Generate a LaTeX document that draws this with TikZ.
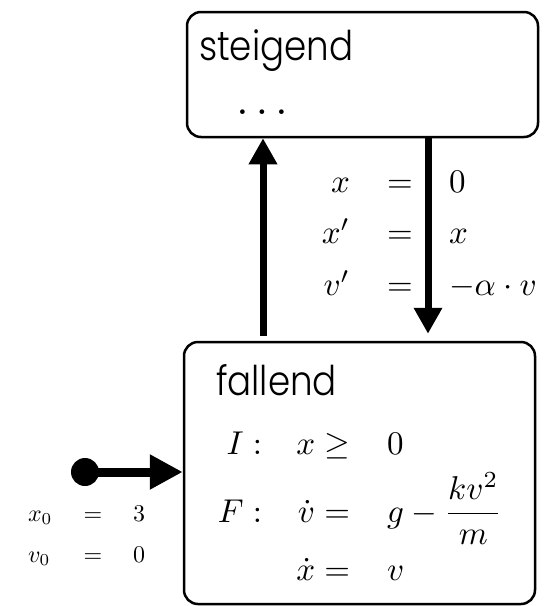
\documentclass[tikz,border=0pt]{standalone}
\usepackage{graphicx}
\usepackage{fontspec}
\newfontfamily\gothic{Poppins Light}
\usetikzlibrary{arrows.meta}
\newcommand{\gthin}[1]{\scalebox{0.87}[1]{#1}}
\begin{document}
\begin{tikzpicture}[x=1pt,y=-1pt,
  statebox/.style={draw, line width=2.5pt, rounded corners=14pt, inner sep=0pt},
  txt/.style={inner sep=0pt, outer sep=0pt},
  sans/.style={txt, font=\gothic\fontsize{41}{48}\selectfont},
  bigm/.style={txt, scale=3.3, transform shape},
  smallm/.style={txt, scale=2.4, transform shape},
  trans/.style={line width=7pt, -{Triangle[length=26pt,width=27pt]}},
  initarr/.style={line width=9pt, -{Triangle[length=33pt,width=33pt]}}]
\useasboundingbox (0,0) rectangle (556,606);
% states
\node[statebox, minimum width=351pt, minimum height=125pt] (steig) at (362.5,74.5) {};
\node[statebox, minimum width=351pt, minimum height=262pt] (fall) at (359.5,473) {};
\node[sans, anchor=base west] (steigname) at (199,60) {\gthin{steigend}};
\node[txt, anchor=base, scale=4.4, transform shape] (steigdots) at (262,114) {$\ldots$};
\node[sans, anchor=base west] (fallname) at (216,395) {\gthin{fallend}};
% transitions
\coordinate (upx) at (263,0);
\coordinate (downx) at (428,0);
\draw[trans, shorten <=5pt] (fall.north -| upx) -- (steig.south -| upx);
\draw[trans, shorten >=7pt] (steig.south -| downx) -- (fall.north -| downx);
% reset labels
\node[bigm, anchor=base east] (r1l) at (350,192) {$x$};
\node[bigm, anchor=base east] (r2l) at (350,243) {$x'$};
\node[bigm, anchor=base east] (r3l) at (350,295) {$v'$};
\node[bigm, anchor=base] (r1e) at (400,192) {$=$};
\node[bigm, anchor=base] (r2e) at (400,243) {$=$};
\node[bigm, anchor=base] (r3e) at (400,295) {$=$};
\node[bigm, anchor=base west] (r1r) at (449,192) {$0$};
\node[bigm, anchor=base west] (r2r) at (449,243) {$x$};
\node[bigm, anchor=base west] (r3r) at (449,295) {$-\alpha\cdot v$};
% falling contents
\node[bigm, anchor=base east] (inv) at (262,454) {$I:$};
\node[bigm, anchor=base east] (flow) at (262,522) {$F:$};
\node[bigm, anchor=base east] (invl) at (350,454) {$x\geq$};
\node[bigm, anchor=base east] (f1l) at (350,522) {$\dot v=$};
\node[bigm, anchor=base east] (f2l) at (350,580) {$\dot x=$};
\node[bigm, anchor=base west] (invr) at (387,454) {$0$};
\node[bigm, anchor=base west] (f1r) at (387,522) {$g-{\displaystyle\frac{kv^2}{m}}$};
\node[bigm, anchor=base west] (f2r) at (387,580) {$v$};
% initial
\node[circle, fill, inner sep=0pt, minimum size=28pt] (init) at (85,472) {};
\draw[initarr] (init.center) -- (init -| fall.west);
\node[smallm, anchor=base west] (i1l) at (28,521) {$x_0$};
\node[smallm, anchor=base] (i1e) at (93,521) {$=$};
\node[smallm, anchor=base west] (i1r) at (133,521) {$3$};
\node[smallm, anchor=base west] (i2l) at (28,562) {$v_0$};
\node[smallm, anchor=base] (i2e) at (93,562) {$=$};
\node[smallm, anchor=base west] (i2r) at (133,562) {$0$};
\end{tikzpicture}
\end{document}
